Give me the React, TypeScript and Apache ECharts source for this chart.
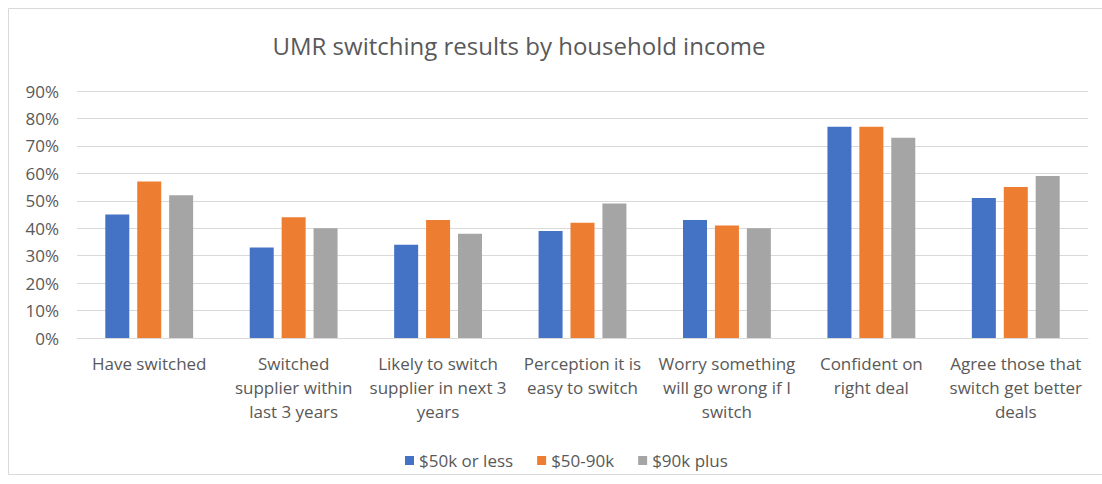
import React, { useEffect, useRef } from "react";
import * as echarts from "echarts";

const categories = [
  "Have switched",
  "Switched\nsupplier within\nlast 3 years",
  "Likely to switch\nsupplier in next 3\nyears",
  "Perception it is\neasy to switch",
  "Worry something\nwill go wrong if I\nswitch",
  "Confident on\nright deal",
  "Agree those that\nswitch get better\ndeals",
];
const seriesNames = ["$50k or less", "$50-90k", "$90k plus"];
const low = [45, 33, 34, 39, 43, 77, 51];
const mid = [57, 44, 43, 42, 41, 77, 55];
const high = [52, 40, 38, 49, 40, 73, 59];
const colors = ["#4472C4", "#ED7D31", "#A5A5A5"];
const titleText = "UMR switching results by household income";

export default function App() {
  const ref = useRef<HTMLDivElement>(null);
  useEffect(() => {
    if (!ref.current) return;
    const chart = echarts.init(ref.current, null, { renderer: "svg" });
    const font = "'Open Sans', sans-serif";
    const values = [low, mid, high];
    chart.setOption({
      animation: false,
      backgroundColor: "#ffffff",
      textStyle: { fontFamily: font },
      graphic: [
        {
          type: "rect",
          shape: { x: 8.5, y: 8.5, width: 1100, height: 466 },
          style: { fill: "none", stroke: "#d9d9d9", lineWidth: 1 },
          z: -1,
        },
        {
          type: "text",
          x: 519,
          y: 45,
          style: {
            text: titleText,
            textAlign: "center",
            textVerticalAlign: "middle",
            fontFamily: font,
            fontSize: 24,
            fill: "#595959",
          },
        },
      ],
      legend: {
        data: seriesNames,
        left: 400,
        top: 447,
        itemWidth: 9,
        itemHeight: 9,
        itemGap: 24,
        icon: "rect",
        textStyle: { color: "#595959", fontSize: 17, fontFamily: font },
      },
      grid: { left: 77, right: 14, top: 91, bottom: 146 },
      xAxis: {
        type: "category",
        data: categories,
        axisTick: { show: false },
        axisLine: { lineStyle: { color: "#d9d9d9" } },
        axisLabel: {
          interval: 0,
          color: "#595959",
          fontSize: 17,
          lineHeight: 24,
          margin: 13,
          fontFamily: font,
        },
      },
      yAxis: {
        type: "value",
        min: 0,
        max: 90,
        interval: 10,
        axisLabel: {
          formatter: "{value}%",
          color: "#595959",
          fontSize: 17,
          margin: 18,
          fontFamily: font,
        },
        splitLine: { lineStyle: { color: "#d9d9d9", width: 1 } },
        axisLine: { show: false },
        axisTick: { show: false },
      },
      series: seriesNames.map((name, i) => ({
        name,
        type: "bar",
        data: values[i],
        barWidth: 24,
        barGap: "33%",
        itemStyle: { color: colors[i] },
      })),
    });
    return () => chart.dispose();
  }, []);
  return (
    <div
      ref={ref}
      style={{ position: "fixed", left: 0, top: 0, width: 1102, height: 484 }}
    />
  );
}
